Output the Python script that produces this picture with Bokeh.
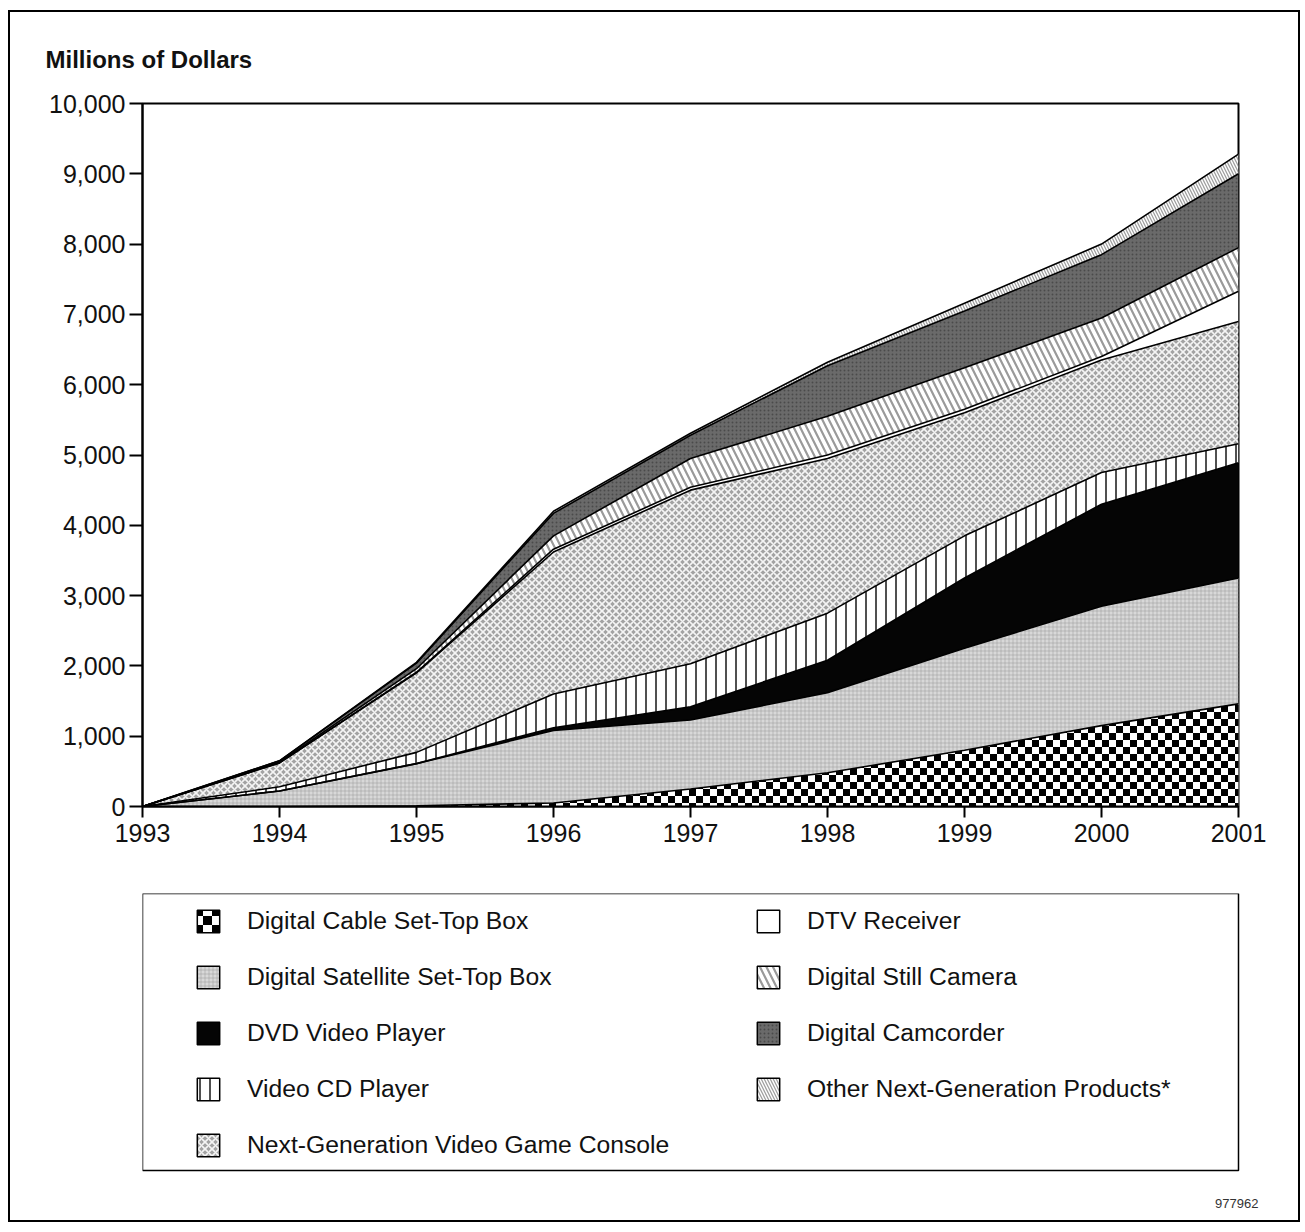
import base64
import struct
import zlib
from bokeh.plotting import figure
from bokeh.models import (ColumnDataSource, Range1d, FixedTicker, NumeralTickFormatter,
                          Legend, LegendItem, Label, ImageURLTexture, VArea, Quad, Title,
                          BoxAnnotation)
from bokeh.layouts import column
from bokeh.core.properties import value
from bokeh.transform import stack
from bokeh.embed import file_html
from bokeh.resources import INLINE

# ---------------- data (millions of dollars) ----------------
years = [1993, 1994, 1995, 1996, 1997, 1998, 1999, 2000, 2001]
digital_cable = [0, 0, 10, 50, 250, 480, 800, 1150, 1460]
digital_satellite = [0, 220, 600, 1030, 980, 1140, 1450, 1700, 1790]
dvd_player = [0, 0, 0, 40, 190, 460, 1000, 1450, 1640]
video_cd = [0, 60, 160, 480, 610, 670, 600, 450, 270]
game_console = [0, 340, 1130, 2020, 2470, 2200, 1750, 1600, 1740]
dtv_receiver = [0, 0, 10, 40, 40, 50, 50, 50, 430]
still_camera = [0, 10, 50, 190, 410, 550, 590, 550, 620]
camcorder = [0, 20, 80, 320, 330, 720, 810, 900, 1050]
other_products = [0, 0, 10, 30, 30, 50, 110, 150, 280]

series_keys = ["cable", "satellite", "dvd", "vcd", "console", "dtv", "still", "camcorder", "other"]
series_labels = ["Digital Cable Set-Top Box", "Digital Satellite Set-Top Box", "DVD Video Player",
                 "Video CD Player", "Next-Generation Video Game Console", "DTV Receiver",
                 "Digital Still Camera", "Digital Camcorder", "Other Next-Generation Products*"]
y_ticks = [0, 1000, 2000, 3000, 4000, 5000, 6000, 7000, 8000, 9000, 10000]
x_ticks = years
y_title = "Millions of Dollars"
figure_id = "977962"

series_values = [digital_cable, digital_satellite, dvd_player, video_cd, game_console,
                 dtv_receiver, still_camera, camcorder, other_products]
src = ColumnDataSource(dict(year=years, **{k: v for k, v in zip(series_keys, series_values)}))


# ---------------- checkerboard texture (PNG data URL) ----------------
def checker_png(n):
    h = n // 2
    raw = b""
    for yy in range(n):
        raw += b"\x00"
        for xx in range(n):
            dark = (xx < h) == (yy < h)
            raw += bytes([0, 0, 0, 255]) if dark else bytes([255, 255, 255, 255])

    def chunk(tag, data):
        return (struct.pack(">I", len(data)) + tag + data +
                struct.pack(">I", zlib.crc32(tag + data) & 0xFFFFFFFF))

    ihdr = struct.pack(">IIBBBBB", n, n, 8, 6, 0, 0, 0)
    png = (b"\x89PNG\r\n\x1a\n" + chunk(b"IHDR", ihdr) +
           chunk(b"IDAT", zlib.compress(raw)) + chunk(b"IEND", b""))
    return "data:image/png;base64," + base64.b64encode(png).decode()


extra = {"checker": ImageURLTexture(url=checker_png(14)),
         "checker_big": ImageURLTexture(url=checker_png(18))}

styles = [
    dict(fill_color="white", hatch_pattern="checker", hatch_color="black", hatch_scale=14, hatch_weight=1),
    dict(fill_color="#d8d8d8", hatch_pattern="+", hatch_color="#a8a8a8", hatch_scale=4, hatch_weight=0.7),
    dict(fill_color="#050505", hatch_pattern=None, hatch_color="black", hatch_scale=10, hatch_weight=1),
    dict(fill_color="white", hatch_pattern="|", hatch_color="#505050", hatch_scale=10, hatch_weight=2),
    dict(fill_color="#a2a2a2", hatch_pattern="x", hatch_color="#f4f4f4", hatch_scale=7, hatch_weight=1.6),
    dict(fill_color="white", hatch_pattern=None, hatch_color="black", hatch_scale=10, hatch_weight=1),
    dict(fill_color="white", hatch_pattern="\\", hatch_color="#9a9a9a", hatch_scale=13, hatch_weight=2.2),
    dict(fill_color="#6a6a6a", hatch_pattern=".", hatch_color="#4a4a4a", hatch_scale=4, hatch_weight=1),
    dict(fill_color="white", hatch_pattern="\\", hatch_color="#a0a0a0", hatch_scale=6, hatch_weight=1.3),
]


def hatch_arg(glyph_cls, pat):
    if pat is None:
        return None
    if pat.startswith("checker") and "hatch_pattern" in glyph_cls.dataspecs():
        return value(pat)
    return pat


FONT = "Liberation Sans"

# ---------------- main chart ----------------
p = figure(width=1288, height=866, output_backend="svg", toolbar_location=None,
           x_range=Range1d(1993, 2001), y_range=Range1d(0, 10000),
           min_border_left=132, min_border_right=60, min_border_top=90, min_border_bottom=72)
p.outline_line_color = "black"
p.outline_line_width = 2
p.xgrid.visible = False
p.ygrid.visible = False
p.background_fill_color = "white"
p.border_fill_color = "white"

for i, key in enumerate(series_keys):
    st = styles[i]
    y1 = 0 if i == 0 else stack(*series_keys[:i])
    y2 = stack(*series_keys[:i + 1])
    kw = dict(fill_color=st["fill_color"], hatch_color=st["hatch_color"],
              hatch_scale=st["hatch_scale"], hatch_weight=st["hatch_weight"])
    hp = hatch_arg(VArea, st["hatch_pattern"])
    if hp is not None:
        kw["hatch_pattern"] = hp
        if st["hatch_pattern"].startswith("checker"):
            kw["hatch_extra"] = extra
    p.varea(x="year", y1=y1, y2=y2, source=src, **kw)

for i, key in enumerate(series_keys):
    p.line(x="year", y=stack(*series_keys[:i + 1]), source=src, line_color="black", line_width=1.6)

p.yaxis.ticker = FixedTicker(ticks=y_ticks)
p.yaxis.formatter = NumeralTickFormatter(format="0,0")
p.xaxis.ticker = FixedTicker(ticks=x_ticks)
for ax in (p.xaxis, p.yaxis):
    ax.axis_line_width = 2
    ax.axis_line_color = "black"
    ax.major_tick_line_width = 2
    ax.major_tick_line_color = "black"
    ax.major_tick_in = 0
    ax.minor_tick_line_color = None
    ax.major_label_text_font = FONT
    ax.major_label_text_font_size = "25px"
    ax.major_label_text_color = "#111111"
p.yaxis.major_tick_out = 13
p.yaxis.major_label_standoff = 4
p.xaxis.major_tick_out = 11
p.xaxis.major_label_standoff = 6

p.add_layout(Title(text=y_title, align="left", offset=-97, standoff=62,
                   text_font=FONT, text_font_size="24px", text_font_style="bold",
                   text_color="#111111"), "above")

# ---------------- legend panel (pixel-unit frame) ----------------
LEG_W, LEG_H, FOOT_H = 1096, 277, 50
can_unalign = "frame_align" in figure().properties()
EXTRA_W = 30 if can_unalign else 0
q = figure(width=1288, height=15 + LEG_H + FOOT_H, output_backend="svg", toolbar_location=None,
           x_range=Range1d(0, LEG_W + EXTRA_W), y_range=Range1d(-FOOT_H, LEG_H),
           x_axis_location=None, y_axis_location=None,
           min_border_left=132, min_border_right=60 - EXTRA_W, min_border_top=15, min_border_bottom=0)
if can_unalign:
    q.frame_align = False
q.outline_line_color = None
q.xgrid.visible = False
q.ygrid.visible = False
q.border_fill_color = "white"
q.background_fill_color = "white"
q.add_layout(BoxAnnotation(left=0, right=LEG_W, bottom=0, top=LEG_H, fill_alpha=0,
                           line_color="black", line_width=1.5, line_alpha=1))

nan = float("nan")
items = []
for i, lab in enumerate(series_labels):
    st = styles[i]
    pat = st["hatch_pattern"]
    kw = dict(fill_color=st["fill_color"], hatch_color=st["hatch_color"],
              hatch_scale=st["hatch_scale"], hatch_weight=st["hatch_weight"])
    if pat == "checker":
        pat = "checker_big"
    hp = hatch_arg(Quad, pat)
    if hp is not None:
        kw["hatch_pattern"] = hp
        if pat.startswith("checker"):
            kw["hatch_extra"] = extra
    r = q.quad(left=[nan], right=[nan], top=[nan], bottom=[nan],
               line_color="black", line_width=1.5, **kw)
    items.append(LegendItem(label=lab, renderers=[r]))

common = dict(orientation="vertical", padding=0, margin=0, spacing=28,
              glyph_width=28, glyph_height=28, label_standoff=25, label_height=28,
              label_text_font=FONT, label_text_font_size="24.7px", label_text_color="#111111",
              border_line_color=None, background_fill_alpha=0)
leg1 = Legend(items=items[:5], location=(52, 61), **common)
leg2 = Legend(items=items[5:], location=(612, 117), **common)
q.add_layout(leg1)
q.add_layout(leg2)

q.add_layout(Label(x=LEG_W + EXTRA_W, y=-33, x_offset=-(EXTRA_W - 20) if can_unalign else 0,
                   text=figure_id, text_align="right",
                   text_baseline="middle", text_font=FONT, text_font_size="13px",
                   text_color="#333333"))

layout = column(p, q, margin=(10, 0, 0, 8), styles={"border": "2px solid black"})
open("out.html", "w").write(file_html(layout, INLINE))
